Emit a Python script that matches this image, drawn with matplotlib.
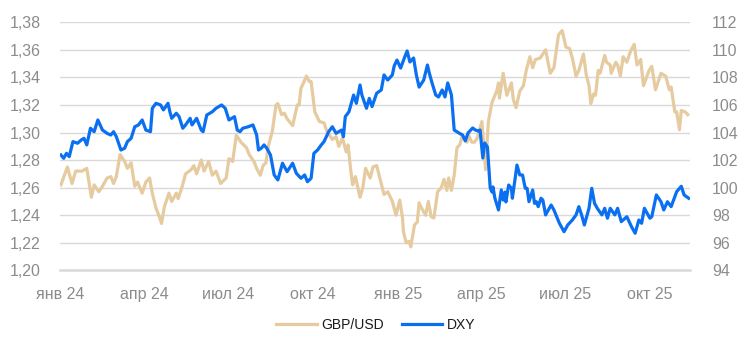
import matplotlib
matplotlib.use("Agg")
import matplotlib.pyplot as plt
import matplotlib.dates as mdates
from matplotlib.ticker import FuncFormatter, MultipleLocator
import pandas as pd

plt.rcParams['font.family'] = ['Liberation Sans', 'DejaVu Sans']

gbp_dates = [
    "2024-01-02", "2024-01-09", "2024-01-14", "2024-01-18", "2024-01-25", "2024-01-30",
    "2024-02-04", "2024-02-07", "2024-02-12", "2024-02-16", "2024-02-21", "2024-02-25",
    "2024-02-28", "2024-03-02", "2024-03-06", "2024-03-11", "2024-03-14", "2024-03-18",
    "2024-03-22", "2024-03-25", "2024-03-30", "2024-04-03", "2024-04-07", "2024-04-10",
    "2024-04-14", "2024-04-17", "2024-04-20", "2024-04-23", "2024-04-28", "2024-05-01",
    "2024-05-06", "2024-05-08", "2024-05-12", "2024-05-16", "2024-05-22", "2024-05-25",
    "2024-05-28", "2024-06-02", "2024-06-05", "2024-06-10", "2024-06-14", "2024-06-18",
    "2024-06-23", "2024-06-29", "2024-07-02", "2024-07-06", "2024-07-10", "2024-07-15",
    "2024-07-18", "2024-07-21", "2024-07-24", "2024-07-29", "2024-08-01", "2024-08-05",
    "2024-08-08", "2024-08-11", "2024-08-14", "2024-08-18", "2024-08-22", "2024-08-24",
    "2024-08-28", "2024-08-31", "2024-09-03", "2024-09-09", "2024-09-14", "2024-09-16",
    "2024-09-18", "2024-09-24", "2024-09-27", "2024-09-29", "2024-10-03", "2024-10-08",
    "2024-10-13", "2024-10-16", "2024-10-22", "2024-10-26", "2024-10-29", "2024-11-02",
    "2024-11-06", "2024-11-08", "2024-11-11", "2024-11-13", "2024-11-16", "2024-11-21",
    "2024-11-24", "2024-11-27", "2024-12-02", "2024-12-05", "2024-12-09", "2024-12-14",
    "2024-12-17", "2024-12-21", "2024-12-26", "2024-12-30", "2025-01-03", "2025-01-06",
    "2025-01-07", "2025-01-10", "2025-01-13", "2025-01-15", "2025-01-19", "2025-01-22",
    "2025-01-24", "2025-01-26", "2025-01-31", "2025-02-03", "2025-02-06", "2025-02-09",
    "2025-02-13", "2025-02-17", "2025-02-20", "2025-02-23", "2025-02-25", "2025-02-28",
    "2025-03-03", "2025-03-06", "2025-03-09", "2025-03-12", "2025-03-17", "2025-03-18",
    "2025-03-22", "2025-03-25", "2025-03-28", "2025-04-02", "2025-04-06", "2025-04-09",
    "2025-04-13", "2025-04-18", "2025-04-20", "2025-04-21", "2025-04-25", "2025-04-29",
    "2025-05-04", "2025-05-06", "2025-05-09", "2025-05-13", "2025-05-17", "2025-05-20",
    "2025-05-24", "2025-05-27", "2025-05-30", "2025-06-04", "2025-06-10", "2025-06-15",
    "2025-06-19", "2025-06-24", "2025-06-28", "2025-07-02", "2025-07-06", "2025-07-09",
    "2025-07-13", "2025-07-16", "2025-07-21", "2025-07-24", "2025-07-27", "2025-07-29",
    "2025-08-01", "2025-08-03", "2025-08-06", "2025-08-08", "2025-08-13", "2025-08-15",
    "2025-08-19", "2025-08-20", "2025-08-25", "2025-08-27", "2025-08-30", "2025-09-02",
    "2025-09-06", "2025-09-10", "2025-09-14", "2025-09-17", "2025-09-21", "2025-09-24",
    "2025-09-30", "2025-10-03", "2025-10-07", "2025-10-13", "2025-10-18", "2025-10-22",
    "2025-10-24", "2025-10-28", "2025-10-30", "2025-11-02", "2025-11-04", "2025-11-08",
    "2025-11-11",
]
gbp_values = [
    1.262, 1.275, 1.263, 1.272, 1.272, 1.274,
    1.253, 1.262, 1.257, 1.261, 1.267, 1.268,
    1.263, 1.268, 1.284, 1.279, 1.274, 1.278,
    1.261, 1.264, 1.256, 1.264, 1.267, 1.256,
    1.245, 1.240, 1.234, 1.246, 1.256, 1.250,
    1.256, 1.252, 1.260, 1.270, 1.273, 1.276,
    1.270, 1.280, 1.272, 1.279, 1.269, 1.272,
    1.263, 1.267, 1.281, 1.279, 1.298, 1.293,
    1.291, 1.289, 1.284, 1.279, 1.274, 1.269,
    1.276, 1.278, 1.291, 1.301, 1.320, 1.321,
    1.313, 1.314, 1.310, 1.305, 1.320, 1.320,
    1.332, 1.341, 1.337, 1.337, 1.315, 1.308,
    1.307, 1.301, 1.295, 1.297, 1.290, 1.296,
    1.286, 1.291, 1.272, 1.262, 1.268, 1.253,
    1.260, 1.274, 1.267, 1.275, 1.276, 1.263,
    1.255, 1.257, 1.250, 1.240, 1.251, 1.238,
    1.228, 1.220, 1.221, 1.217, 1.233, 1.235,
    1.249, 1.246, 1.240, 1.250, 1.239, 1.238,
    1.257, 1.260, 1.266, 1.258, 1.267, 1.258,
    1.269, 1.289, 1.291, 1.298, 1.293, 1.299,
    1.293, 1.293, 1.296, 1.308, 1.273, 1.308,
    1.322, 1.330, 1.336, 1.325, 1.343, 1.327,
    1.336, 1.324, 1.318, 1.330, 1.334, 1.345,
    1.355, 1.347, 1.353, 1.354, 1.360, 1.343,
    1.347, 1.371, 1.374, 1.362, 1.361, 1.354,
    1.341, 1.345, 1.357, 1.342, 1.334, 1.321,
    1.328, 1.327, 1.345, 1.343, 1.356, 1.351,
    1.349, 1.343, 1.351, 1.349, 1.341, 1.355,
    1.351, 1.359, 1.364, 1.349, 1.353, 1.334,
    1.345, 1.348, 1.331, 1.343, 1.341, 1.331,
    1.333, 1.315, 1.315, 1.302, 1.316, 1.315,
    1.313,
]

dxy_dates = [
    "2024-01-02", "2024-01-05", "2024-01-08", "2024-01-11", "2024-01-15", "2024-01-20",
    "2024-01-24", "2024-01-27", "2024-01-30", "2024-02-03", "2024-02-07", "2024-02-11",
    "2024-02-16", "2024-02-21", "2024-02-25", "2024-02-28", "2024-03-02", "2024-03-07",
    "2024-03-11", "2024-03-14", "2024-03-18", "2024-03-22", "2024-03-26", "2024-03-30",
    "2024-04-03", "2024-04-08", "2024-04-10", "2024-04-14", "2024-04-19", "2024-04-22",
    "2024-04-27", "2024-04-29", "2024-05-01", "2024-05-06", "2024-05-09", "2024-05-13",
    "2024-05-16", "2024-05-21", "2024-05-23", "2024-05-28", "2024-06-02", "2024-06-04",
    "2024-06-08", "2024-06-14", "2024-06-18", "2024-06-24", "2024-06-28", "2024-07-02",
    "2024-07-08", "2024-07-11", "2024-07-14", "2024-07-17", "2024-07-23", "2024-07-28",
    "2024-08-01", "2024-08-03", "2024-08-06", "2024-08-09", "2024-08-12", "2024-08-16",
    "2024-08-20", "2024-08-24", "2024-08-29", "2024-09-03", "2024-09-09", "2024-09-13",
    "2024-09-18", "2024-09-22", "2024-09-25", "2024-09-29", "2024-10-02", "2024-10-06",
    "2024-10-10", "2024-10-13", "2024-10-18", "2024-10-22", "2024-10-26", "2024-11-01",
    "2024-11-03", "2024-11-05", "2024-11-09", "2024-11-14", "2024-11-17", "2024-11-21",
    "2024-11-23", "2024-11-28", "2024-12-01", "2024-12-04", "2024-12-09", "2024-12-14",
    "2024-12-17", "2024-12-21", "2024-12-26", "2024-12-28", "2024-12-31", "2025-01-04",
    "2025-01-08", "2025-01-11", "2025-01-14", "2025-01-18", "2025-01-21", "2025-01-24",
    "2025-01-29", "2025-02-02", "2025-02-04", "2025-02-07", "2025-02-11", "2025-02-14",
    "2025-02-18", "2025-02-21", "2025-02-24", "2025-02-28", "2025-03-03", "2025-03-08",
    "2025-03-12", "2025-03-15", "2025-03-18", "2025-03-23", "2025-03-26", "2025-03-29",
    "2025-03-31", "2025-04-03", "2025-04-05", "2025-04-08", "2025-04-11", "2025-04-13",
    "2025-04-14", "2025-04-16", "2025-04-20", "2025-04-23", "2025-04-25", "2025-04-27",
    "2025-04-28", "2025-05-01", "2025-05-04", "2025-05-05", "2025-05-08", "2025-05-10",
    "2025-05-13", "2025-05-16", "2025-05-19", "2025-05-21", "2025-05-23", "2025-05-27",
    "2025-05-29", "2025-05-31", "2025-06-02", "2025-06-05", "2025-06-07", "2025-06-10",
    "2025-06-16", "2025-06-19", "2025-06-25", "2025-06-30", "2025-07-04", "2025-07-09",
    "2025-07-13", "2025-07-16", "2025-07-19", "2025-07-22", "2025-07-27", "2025-07-30",
    "2025-08-02", "2025-08-05", "2025-08-10", "2025-08-13", "2025-08-16", "2025-08-19",
    "2025-08-24", "2025-08-27", "2025-08-31", "2025-09-06", "2025-09-11", "2025-09-15",
    "2025-09-19", "2025-09-22", "2025-09-25", "2025-10-01", "2025-10-03", "2025-10-08",
    "2025-10-13", "2025-10-16", "2025-10-20", "2025-10-24", "2025-10-30", "2025-11-04",
    "2025-11-07", "2025-11-12",
]
dxy_values = [
    102.37, 102.13, 102.49, 102.25, 103.34, 103.22,
    103.46, 103.58, 103.10, 104.31, 104.06, 104.91,
    104.18, 103.94, 103.82, 104.06, 103.70, 102.73,
    102.86, 103.34, 103.58, 104.42, 104.55, 104.91,
    104.18, 104.06, 105.76, 106.12, 106.00, 105.64,
    106.12, 105.51, 105.03, 105.40, 105.15, 104.31,
    104.55, 105.03, 104.55, 105.03, 104.18, 104.06,
    105.27, 105.51, 105.76, 106.00, 105.76, 104.91,
    105.15, 104.18, 104.06, 104.31, 104.42, 104.55,
    103.82, 102.73, 102.86, 103.10, 102.86, 102.37,
    100.92, 100.56, 101.77, 101.16, 101.77, 101.04,
    100.68, 100.92, 100.43, 100.68, 102.49, 102.73,
    103.10, 103.34, 104.06, 104.42, 103.94, 104.18,
    103.70, 105.15, 105.51, 106.72, 106.12, 107.45,
    106.72, 105.76, 106.48, 105.88, 106.85, 107.09,
    108.18, 107.81, 108.18, 108.83, 109.26, 108.68,
    109.41, 109.92, 109.12, 109.41, 108.18, 107.30,
    107.81, 108.90, 108.32, 107.60, 106.72, 106.58,
    107.09, 106.58, 107.60, 106.72, 104.18, 103.97,
    103.82, 103.39, 103.97, 104.33, 104.18, 104.11,
    104.18, 102.15, 103.24, 102.95, 99.98, 99.68,
    100.05, 99.25, 98.38, 99.83, 99.10, 99.68,
    98.96, 100.19, 99.95, 99.23, 100.68, 101.64,
    100.92, 100.92, 99.95, 99.95, 98.98, 99.83,
    98.86, 98.98, 98.62, 99.23, 99.10, 98.02,
    98.74, 98.38, 97.41, 96.80, 97.29, 97.65,
    98.02, 98.62, 98.02, 97.29, 98.50, 99.95,
    98.86, 98.50, 98.02, 98.50, 97.78, 98.50,
    98.02, 98.50, 97.53, 97.89, 97.17, 96.69,
    97.65, 97.41, 98.50, 97.78, 97.89, 99.47,
    98.98, 98.38, 98.98, 98.62, 99.71, 100.10,
    99.47, 99.23,
]

tick_dates = ["2024-01-01", "2024-04-01", "2024-07-01", "2024-10-01",
              "2025-01-01", "2025-04-01", "2025-07-01", "2025-10-01"]
tick_labels = ["янв 24", "апр 24", "июл 24", "окт 24",
               "янв 25", "апр 25", "июл 25", "окт 25"]

gbp_label = "GBP/USD"
dxy_label = "DXY"
gbp_color = "#e5cb9f"
dxy_color = "#0a6ff0"
label_color = "#8c8c8c"
grid_color = "#d9d9d9"

fig = plt.figure(figsize=(7.46, 3.55), dpi=100)
ax = fig.add_axes([60 / 746, 1 - 270.3 / 355, 630 / 746, 248 / 355])
ax2 = ax.twinx()

g_x = pd.to_datetime(gbp_dates)
d_x = pd.to_datetime(dxy_dates)

lg, = ax.plot(g_x, gbp_values, color=gbp_color, lw=2.3, solid_joinstyle='round', zorder=2)
ld, = ax2.plot(d_x, dxy_values, color=dxy_color, lw=2.3, solid_joinstyle='round', zorder=3)

ax.set_ylim(1.20, 1.38)
ax.yaxis.set_major_locator(MultipleLocator(0.02))
ax.yaxis.set_major_formatter(FuncFormatter(lambda v, p: f"{v:.2f}".replace(".", ",")))
ax2.set_ylim(94, 112)
ax2.yaxis.set_major_locator(MultipleLocator(2))
ax2.yaxis.set_major_formatter(FuncFormatter(lambda v, p: f"{v:.0f}"))

ax.set_xlim(pd.Timestamp("2024-01-01"), pd.Timestamp("2025-11-13 10:00"))
ax.set_xticks(pd.to_datetime(tick_dates))
ax.set_xticklabels(tick_labels)

ax.grid(axis='y', color=grid_color, lw=1.0, zorder=0)
ax.set_axisbelow(True)
for a in (ax, ax2):
    for s in ("top", "left", "right"):
        a.spines[s].set_visible(False)
    a.spines["bottom"].set_color(grid_color)
    a.spines["bottom"].set_linewidth(1.8)
ax2.spines["bottom"].set_visible(False)

ax.tick_params(axis='y', length=0, pad=14, labelsize=11.5, labelcolor=label_color)
ax2.tick_params(axis='y', length=0, pad=16, labelsize=11.5, labelcolor=label_color)
ax.tick_params(axis='x', length=0, pad=12, labelsize=11.5, labelcolor=label_color)

leg = fig.legend([lg, ld], [gbp_label, dxy_label], loc='center',
                 bbox_to_anchor=(376 / 746, 1 - 325 / 355),
                 ncol=2, frameon=False, fontsize=10, handlelength=2.9, columnspacing=1.3,
                 handletextpad=0.35)
for t in leg.get_texts():
    t.set_color("#1a1a1a")

fig.savefig("out.png", dpi=100)
